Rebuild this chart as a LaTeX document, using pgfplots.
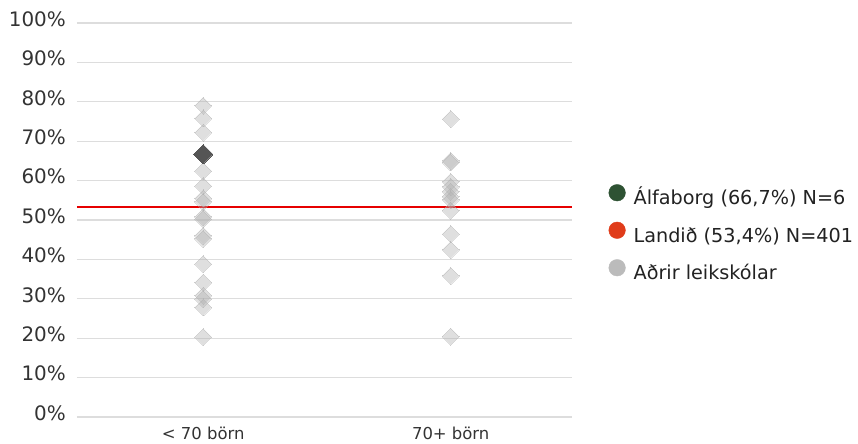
\documentclass[border=0pt]{standalone}
\usepackage{pgfplots}
\pgfplotsset{compat=1.18}
\usepackage{fontspec}
\setmainfont{DejaVu Sans}
\definecolor{gridc}{HTML}{DDDDDD}
\definecolor{tickc}{HTML}{333333}
\definecolor{legc}{HTML}{222222}
\definecolor{alfa}{HTML}{2E5233}
\definecolor{land}{HTML}{E03C1A}
\definecolor{other}{HTML}{BBBBBB}
\definecolor{darkd}{HTML}{555555}
\definecolor{lined}{HTML}{E60000}
\definecolor{mk}{HTML}{B0B0B0}
\begin{document}
\begin{tikzpicture}
\begin{axis}[
  scale only axis,
  width=495bp, height=394bp,
  xmin=-0.51, xmax=1.49,
  ymin=0, ymax=100,
  axis line style={draw=none},
  xtick={0,1},
  xticklabels={{< 70 börn},{70+ börn}},
  major tick length=0pt,
  ytick={0,10,...,100},
  yticklabel={\pgfmathprintnumber{\tick}\%},
  /pgf/number format/assume math mode=true,
  ymajorgrids,
  grid style={gridc, line width=1.3bp},
  yticklabel style={font=\fontsize{20}{23}\selectfont, text=tickc, anchor=east, inner sep=0pt, xshift=-11bp, yshift=4bp},
  xticklabel style={font=\fontsize{16.5}{19}\selectfont, text=tickc, anchor=center, inner sep=0pt, yshift=-16bp},
  clip=false,
  legend style={draw=none, fill=none, at={(1,0.4746)}, anchor=west, xshift=36.4bp, yshift=-4bp,
    inner sep=0pt, row sep=13bp, column sep=8bp,
    font=\fontsize{19.3}{22}\selectfont, text=legc,
    nodes={inner sep=0pt, text height=14bp, text depth=4bp}},
  legend cell align=left,
]
\addlegendimage{legend image code/.code={\fill[alfa] (8.3bp,7bp) circle (8.3bp);}}
\addlegendentry{Álfaborg (66,7\%) N=6}
\addlegendimage{legend image code/.code={\fill[land] (8.3bp,7bp) circle (8.3bp);}}
\addlegendentry{Landið (53,4\%) N=401}
\addlegendimage{legend image code/.code={\fill[other] (8.3bp,7bp) circle (8.3bp);}}
\addlegendentry{Aðrir leikskólar}
\addplot[forget plot, only marks, mark=square*, mark size=6bp, color=mk,
  mark options={rotate=45, draw=none, fill=mk, opacity=0.4, line width=0pt}]
  table {
x y
0 79.0
0 75.8
0 72.2
0 62.4
0 58.6
0 55.5
0 54.6
0 50.8
0 50.2
0 46.0
0 45.2
0 38.8
0 34.1
0 30.8
0 29.9
0 27.8
0 20.3
1 75.6
1 65.0
1 64.6
1 59.7
1 58.4
1 57.2
1 55.9
1 55.1
1 52.4
1 46.4
1 42.4
1 35.8
1 20.4
};
\addplot[forget plot, only marks, mark=square*, mark size=6.8bp, color=darkd,
  mark options={rotate=45, draw=none, fill=darkd, line width=0pt}]
  coordinates {(0,66.7)};
\addplot[forget plot, lined, line width=2bp] coordinates {(-0.51,53.4) (1.49,53.4)};
\end{axis}
\pgfresetboundingbox
\path ([xshift=-77bp,yshift=-27bp]current axis.south west) rectangle ([xshift=286bp,yshift=23bp]current axis.north east);
\end{tikzpicture}
\end{document}
